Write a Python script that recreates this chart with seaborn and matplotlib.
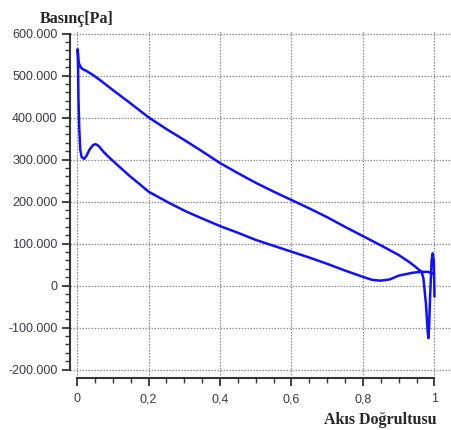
import numpy as np
import pandas as pd
import seaborn as sns
import matplotlib
matplotlib.use("Agg")
import matplotlib.pyplot as plt
from matplotlib.ticker import FixedLocator, FuncFormatter

# pressure along the flow direction (closed contour)
# right end spike, going from x=1 back to the upper branch
tip_x = [1.000, 0.999, 0.998, 0.995, 0.992, 0.988, 0.985, 0.983, 0.981, 0.976, 0.969, 0.964]
tip_y = [-26, 20, 60, 77, 61, -20, -95, -125, -110, -42, 18, 33]

# upper branch, right to left
upper_x = [0.964, 0.955, 0.948, 0.93, 0.90, 0.85, 0.80, 0.75, 0.70, 0.65, 0.60, 0.55,
           0.50, 0.45, 0.40, 0.35, 0.30, 0.25, 0.20, 0.15, 0.10, 0.07, 0.046, 0.027,
           0.015, 0.010, 0.006, 0.004, 0.002]
upper_y = [33, 39, 44, 56, 73, 96, 118, 140, 163, 184, 204, 224,
           245, 268, 292, 320, 347, 373, 401, 434, 466, 486, 501, 511,
           516, 521, 528, 535, 563]

# lower branch, left to right
lower_x = [0.002, 0.003, 0.004, 0.006, 0.009, 0.013, 0.020, 0.027, 0.035, 0.045, 0.052,
           0.060, 0.075, 0.093, 0.12, 0.149, 0.175, 0.20, 0.26, 0.307, 0.35, 0.40,
           0.45, 0.50, 0.55, 0.60, 0.65, 0.70, 0.75, 0.80, 0.825, 0.85, 0.875, 0.90,
           0.94, 0.964, 0.983, 0.993]
lower_y = [563, 520, 450, 380, 325, 306, 302, 310, 324, 335, 337,
           333, 318, 303, 282, 260, 242, 224, 196, 176, 160, 142,
           126, 109, 95, 81, 67, 52, 36, 21, 14, 12, 15, 24,
           31, 33, 33, 29]

x_ticks = [0, 0.2, 0.4, 0.6, 0.8, 1.0]
x_ticklabels = ["0", "0,2", "0,4", "0,6", "0,8", "1"]
y_ticks = [-200, -100, 0, 100, 200, 300, 400, 500, 600]

df = pd.DataFrame({
    "x": tip_x + upper_x + lower_x,
    "y": tip_y + upper_y + lower_y,
})

sns.set_style("white")

fig = plt.figure(figsize=(4.52, 4.30), dpi=100)
ax = fig.add_axes([70/452, 52/430, 382/452, 348/430])

sns.lineplot(data=df, x="x", y="y", sort=False, estimator=None,
             color="#1010ff", lw=1.8, ax=ax)

ax.set_xlim(-0.0196, 1.049)
ax.set_ylim(-219.8, 608.8)

ax.xaxis.set_major_locator(FixedLocator(x_ticks))
ax.xaxis.set_minor_locator(FixedLocator(np.arange(0, 1.001, 0.05)))
ax.set_xticklabels(x_ticklabels)
ax.yaxis.set_major_locator(FixedLocator(y_ticks))
ax.yaxis.set_minor_locator(FixedLocator(np.arange(-200, 601, 20)))
ax.yaxis.set_major_formatter(FuncFormatter(lambda v, p: "0" if v == 0 else "%d.000" % v))

ax.grid(True, which="major", ls=(0, (1.2, 1.2)), color="#8c8c8c", lw=0.9)
ax.set_axisbelow(True)

for s in ["top", "right"]:
    ax.spines[s].set_visible(False)
for s in ["left", "bottom"]:
    ax.spines[s].set_color("#333333")
    ax.spines[s].set_linewidth(1.5)
ax.spines["left"].set_bounds(-200, 600)
ax.spines["bottom"].set_bounds(0, 1)

ax.tick_params(which="major", direction="out", length=6, width=1.3, color="#333333",
               labelsize=9, labelcolor="#3a3a48")
ax.tick_params(which="minor", direction="out", length=3.6, width=1.0, color="#333333")
ax.tick_params(axis="y", which="major", pad=3)
ax.tick_params(axis="x", which="major", pad=5)
ax.tick_params(axis="x", which="both", bottom=True)
ax.tick_params(axis="y", which="both", left=True)
for lab in ax.get_xticklabels() + ax.get_yticklabels():
    lab.set_fontfamily("Liberation Sans")

ax.set_xlabel("")
ax.set_ylabel("")

fig.text(40/452, 1 - 23/430, "Basınç[Pa]", fontfamily="Liberation Serif",
         fontweight="bold", fontsize=11.5, ha="left", va="baseline")
fig.text(437/452, 1 - 424/430, "Akıs Doğrultusu", fontfamily="Liberation Serif",
         fontweight="bold", fontsize=11.5, ha="right", va="baseline")

fig.savefig("out.png", dpi=100)
